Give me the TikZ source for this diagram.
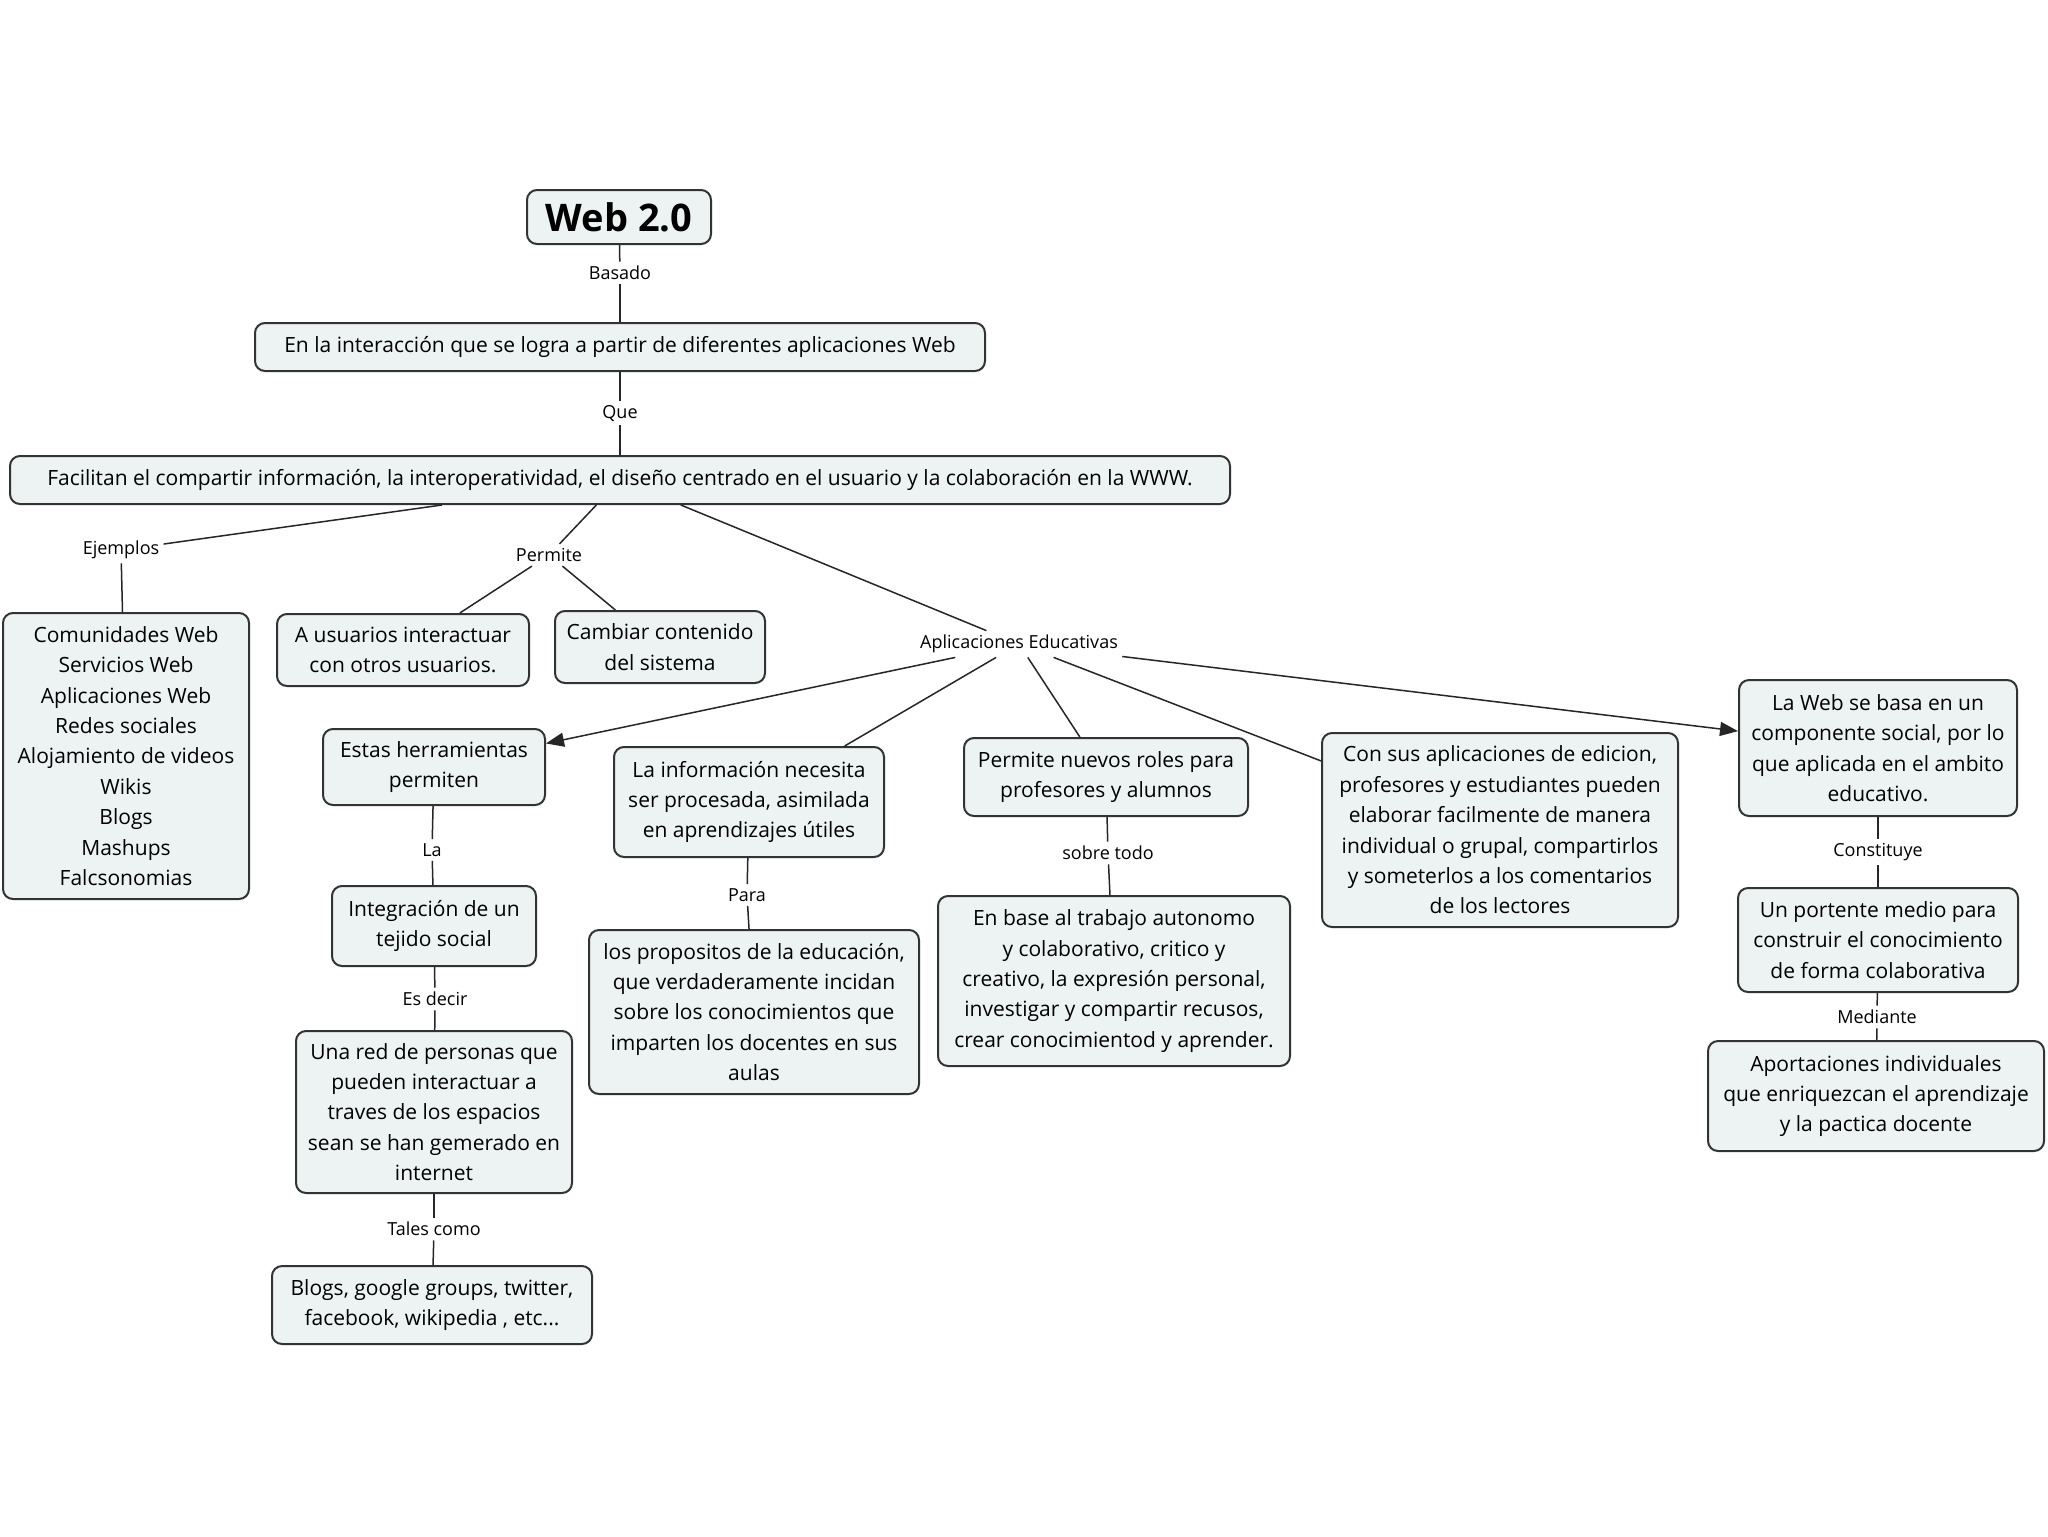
\documentclass[tikz,border=0pt]{standalone}
\usepackage{fontspec}
\setmainfont{Open Sans}
\usetikzlibrary{arrows.meta}
\definecolor{gris}{HTML}{EDF2F3}
\tikzset{
  concepto/.style={draw=black!80, line width=1pt, rounded corners=5pt, fill=gris,
    align=center, inner sep=2pt, font=\fontsize{10.5}{15.2}\selectfont},
  enlace/.style={inner sep=2pt, font=\fontsize{9}{11}\selectfont},
  linea/.style={draw=black!85, line width=0.75pt},
  flecha/.style={linea, -{Triangle[length=9pt,width=7pt]}},
}
\begin{document}
\begin{tikzpicture}[x=0.5pt,y=-0.5pt]
    \useasboundingbox[fill=white] (0,0) rectangle (2048,1536);
    % tronco central
    \node[concepto, font=\fontsize{19}{22}\selectfont\bfseries, minimum width=92pt, minimum height=27pt] (web) at (619,217) {Web 2.0};
    \node[enlace] (basado) at (620,273) {Basado};
    \node[concepto, minimum width=365pt, minimum height=24pt] (inter) at (620,347) {En la interacción que se logra a partir de diferentes aplicaciones Web};
    \node[enlace] (que) at (620,413) {Que};
    \node[concepto, minimum width=610pt, minimum height=24pt] (facil) at (620,480) {Facilitan el compartir información, la interoperatividad, el diseño centrado en el usuario y la colaboración en la WWW.};
    \draw[linea] (web) -- (basado);
    \draw[linea] (basado) -- (inter);
    \draw[linea] (inter) -- (que);
    \draw[linea] (que) -- (facil);
    % ejemplos y permite
    \node[enlace] (ejem) at (121,550) {Ejemplos};
    \node[concepto, minimum width=123pt, minimum height=143pt] (comun) at (126,756) {Comunidades Web\\Servicios Web\\Aplicaciones Web\\Redes sociales\\Alojamiento de videos\\Wikis\\Blogs\\Mashups\\Falcsonomias};
    \node[enlace] (permite) at (549,555) {Permite};
    \node[concepto, minimum width=126pt, minimum height=36pt] (usuarios) at (403,650) {A usuarios interactuar\\con otros usuarios.};
    \node[concepto, minimum width=105pt, minimum height=36pt] (cambiar) at (660,647) {Cambiar contenido\\del sistema};
    \draw[linea] (facil) -- (ejem);
    \draw[linea] (ejem) -- (comun);
    \draw[linea] (facil) -- (permite);
    \draw[linea] (permite) -- (usuarios);
    \draw[linea] (permite) -- (cambiar);
    % aplicaciones educativas
    \node[enlace] (aplic) at (1019,644) {Aplicaciones Educativas};
    \draw[linea] (facil) -- (aplic);
    \node[concepto, minimum width=111pt, minimum height=38pt] (herram) at (434,767) {Estas herramientas\\permiten};
    \node[enlace] (la) at (432,850) {La};
    \node[concepto, minimum width=102pt, minimum height=40pt] (integr) at (434,926) {Integración de un\\tejido social};
    \node[enlace] (esdecir) at (435,999) {Es decir};
    \node[concepto, minimum width=138pt, minimum height=81pt] (red) at (434,1112) {Una red de personas que\\pueden interactuar a\\traves de los espacios\\sean se han gemerado en\\internet};
    \node[enlace] (tales) at (434,1229) {Tales como};
    \node[concepto, minimum width=160pt, minimum height=39pt] (blogs) at (432,1305) {Blogs, google groups, twitter,\\facebook, wikipedia , etc...};
    \draw[flecha] (aplic) -- (herram);
    \draw[linea] (herram) -- (la);
    \draw[linea] (la) -- (integr);
    \draw[linea] (integr) -- (esdecir);
    \draw[linea] (esdecir) -- (red);
    \draw[linea] (red) -- (tales);
    \draw[linea] (tales) -- (blogs);
    \node[concepto, minimum width=135pt, minimum height=55pt] (info) at (749,802) {La información necesita\\ser procesada, asimilada\\en aprendizajes útiles};
    \node[enlace] (para) at (747,895) {Para};
    \node[concepto, minimum width=165pt, minimum height=82pt] (propos) at (754,1012) {los propositos de la educación,\\que verdaderamente incidan\\sobre los conocimientos que\\imparten los docentes en sus\\aulas};
    \draw[linea] (aplic) -- (info);
    \draw[linea] (info) -- (para);
    \draw[linea] (para) -- (propos);
    \node[concepto, minimum width=142pt, minimum height=39pt] (roles) at (1106,777) {Permite nuevos roles para\\profesores y alumnos};
    \node[enlace] (sobre) at (1108,853) {sobre todo};
    \node[concepto, minimum width=176pt, minimum height=85pt] (base) at (1114,981) {En base al trabajo autonomo\\y colaborativo, critico y\\creativo, la expresión personal,\\investigar y compartir recusos,\\crear conocimientod y aprender.};
    \draw[linea] (aplic) -- (roles);
    \draw[linea] (roles) -- (sobre);
    \draw[linea] (sobre) -- (base);
    \node[concepto, minimum width=178pt, minimum height=97pt] (edicion) at (1500,830) {Con sus aplicaciones de edicion,\\profesores y estudiantes pueden\\elaborar facilmente de manera\\individual o grupal, compartirlos\\y someterlos a los comentarios\\de los lectores};
    \draw[linea] (aplic) -- (edicion);
    % rama derecha
    \node[concepto, minimum width=139pt, minimum height=68pt] (social) at (1878,748) {La Web se basa en un\\componente social, por lo\\que aplicada en el ambito\\educativo.};
    \node[enlace] (const) at (1878,852) {Constituye};
    \node[concepto, minimum width=140pt, minimum height=52pt] (portente) at (1878,940) {Un portente medio para\\construir el conocimiento\\de forma colaborativa};
    \node[enlace] (mediante) at (1877,1017) {Mediante};
    \node[concepto, minimum width=168pt, minimum height=55pt] (aport) at (1876,1096) {Aportaciones individuales\\que enriquezcan el aprendizaje\\y la pactica docente};
    \draw[flecha] (aplic) -- (social);
    \draw[linea] (social) -- (const);
    \draw[linea] (const) -- (portente);
    \draw[linea] (portente) -- (mediante);
    \draw[linea] (mediante) -- (aport);
\end{tikzpicture}
\end{document}
